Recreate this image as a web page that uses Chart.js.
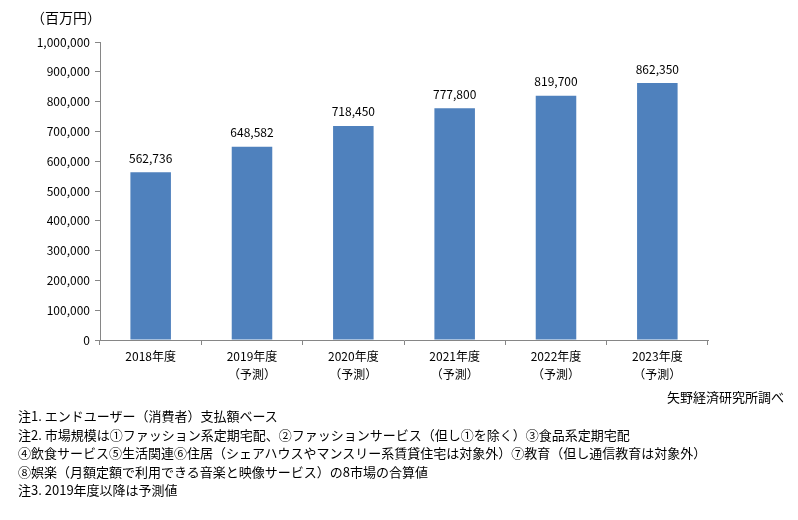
<!DOCTYPE html>
<html>
<head>
<meta charset="utf-8">
<script src="https://cdn.jsdelivr.net/npm/chart.js@4"></script>
<style>
  body { margin: 0; background: #fff; }
  #wrap { position: relative; width: 798px; height: 520px; font-family: "Noto Sans CJK JP", sans-serif; color: #000; }
  #myChart { position: absolute; left: 0; top: 0; }
  .txt { position: absolute; white-space: nowrap; font-size: 13px; line-height: 18px; }
</style>
</head>
<body>
<div id="wrap">
  <canvas id="myChart" width="798" height="520"></canvas>
  <div class="txt" style="left:31px; top:8px; font-size:14px;">（百万円）</div>
  <div class="txt" style="right:14px; top:388px;">矢野経済研究所調べ</div>
  <div class="txt" style="left:18px; top:407px;">注1. エンドユーザー（消費者）支払額ベース</div>
  <div class="txt" style="left:18px; top:426px;">注2. 市場規模は①ファッション系定期宅配、②ファッションサービス（但し①を除く）③食品系定期宅配</div>
  <div class="txt" style="left:18px; top:444px;">④飲食サービス⑤生活関連⑥住居（シェアハウスやマンスリー系賃貸住宅は対象外）⑦教育（但し通信教育は対象外）</div>
  <div class="txt" style="left:18px; top:463px;">⑧娯楽（月額定額で利用できる音楽と映像サービス）の8市場の合算値</div>
  <div class="txt" style="left:18px; top:481px;">注3. 2019年度以降は予測値</div>
</div>
<script>
// data
const years = ["2018年度", "2019年度", "2020年度", "2021年度", "2022年度", "2023年度"];
const forecastNote = ["", "（予測）", "（予測）", "（予測）", "（予測）", "（予測）"];
const marketSize = [562736, 648582, 718450, 777800, 819700, 862350];

const labels = years.map((y, i) => forecastNote[i] ? [y, forecastNote[i]] : y);

// value labels over each bar
const valueLabels = {
    id: 'valueLabels',
    afterDatasetsDraw(chart) {
        const ctx = chart.ctx;
        const meta = chart.getDatasetMeta(0);
        ctx.save();
        ctx.font = '12px "Noto Sans CJK JP", sans-serif';
        ctx.fillStyle = '#000';
        ctx.textAlign = 'center';
        ctx.textBaseline = 'middle';
        meta.data.forEach((bar, i) => {
            ctx.fillText(marketSize[i].toLocaleString('en-US'), bar.x, bar.y - 14);
        });
        ctx.restore();
    }
};

const ctx = document.getElementById('myChart').getContext('2d');
const myChart = new Chart(ctx, {
    type: 'bar',
    data: {
        labels: labels,
        datasets: [{
            data: marketSize,
            backgroundColor: '#4F81BD',
            barPercentage: 0.4,
            categoryPercentage: 1.0
        }]
    },
    options: {
        responsive: false,
        animation: false,
        layout: { padding: { top: 42, right: 90, left: 0, bottom: 0 } },
        plugins: { legend: { display: false }, tooltip: { enabled: false } },
        scales: {
            x: {
                grid: { display: true, drawOnChartArea: false, offset: true, tickLength: 5, color: '#868686' },
                border: { color: '#868686' },
                ticks: { color: '#000', font: { family: '"Noto Sans CJK JP", sans-serif', size: 12, lineHeight: 1.5 }, padding: 2, maxRotation: 0 },
                afterFit(scale) { scale.height = 180; }
            },
            y: {
                min: 0,
                max: 1000000,
                grid: { display: true, drawOnChartArea: false, tickLength: 5, color: '#868686' },
                border: { color: '#868686' },
                ticks: {
                    stepSize: 100000,
                    color: '#000',
                    font: { family: '"Noto Sans CJK JP", sans-serif', size: 12 },
                    padding: 5,
                    callback: v => v.toLocaleString('en-US')
                },
                afterFit(scale) { scale.width = 100; }
            }
        }
    },
    plugins: [valueLabels]
});
</script>
</body>
</html>
